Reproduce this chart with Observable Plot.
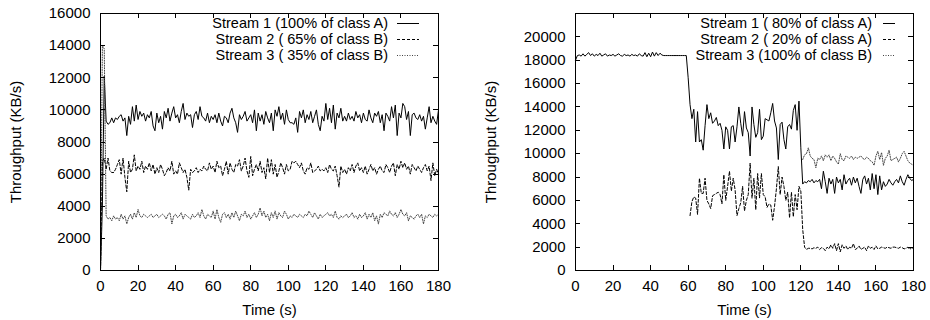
<!DOCTYPE html>
<html>
<head>
<meta charset="utf-8">
<script src="https://cdn.jsdelivr.net/npm/d3@7"></script>
<script src="https://cdn.jsdelivr.net/npm/@observablehq/plot@0.6"></script>
<style>
  html, body { margin: 0; padding: 0; background: #fff; }
  #wrap { display: flex; width: 930px; height: 320px; }
</style>
</head>
<body>
<div id="wrap"></div>
<script>
// ---------- data (one sample per second, value in KB/s) ----------
const xTicks = [0, 20, 40, 60, 80, 100, 120, 140, 160, 180];
const yTicksLeft = [0, 2000, 4000, 6000, 8000, 10000, 12000, 14000, 16000];
const yTicksRight = [0, 2000, 4000, 6000, 8000, 10000, 12000, 14000, 16000, 18000, 20000];

const legendLeft = ["Stream 1 (100% of class A)", "Stream 2 ( 65% of class B)", "Stream 3 ( 35% of class B)"];
const legendRight = ["Stream 1 ( 80% of class A)", "Stream 2 ( 20% of class A)", "Stream 3 (100% of class B)"];

// left panel, start t = 0
const left1 = [
  0, 4000, 12100, 9300, 9100, 9200, 9500, 9200, 9500, 9400,
  9600, 9700, 9300, 9500, 8400, 9600, 9100, 10200, 9300, 10300,
  9400, 9900, 9600, 9800, 9300, 9700, 9500, 9900, 9000, 8700,
  9800, 9200, 9600, 8800, 9900, 9500, 10100, 9300, 9800, 10200,
  9500, 9700, 9200, 9900, 10400, 9400, 9800, 9600, 9700, 8900,
  9700, 9900, 9400, 10200, 9600, 9500, 9300, 9800, 9200, 9600,
  9400, 9700, 9200, 9800, 9300, 9000, 9600, 9500, 9200, 9800,
  10100, 9500, 9200, 8600, 9700, 9400, 9600, 9900, 9300, 9500,
  9700, 9200, 10000, 8700, 9800, 9300, 9700, 9100, 9900, 9500,
  9200, 9800, 8700, 10000, 9600, 10200, 9400, 9800, 9100, 10000,
  9400, 9200, 9200, 9100, 9500, 8600, 9900, 9500, 10000, 9200,
  9700, 9400, 9900, 9200, 9600, 10000, 9100, 8700, 9600, 9300,
  10400, 9400, 10100, 9200, 10300, 8800, 9800, 9500, 10100, 9300,
  9600, 9300, 9800, 9400, 9600, 9300, 9900, 9500, 9700, 9200,
  9800, 9400, 9300, 10000, 9500, 9200, 9800, 9600, 9900, 9200,
  9700, 8700, 9800, 9600, 9300, 10200, 9500, 10300, 8400, 9800,
  9500, 10400, 10200, 9400, 9900, 8400, 9700, 9800, 9500, 9400,
  9700, 9300, 9600, 8800, 9500, 10200, 9200, 9600, 9300, 9100,
  10000
];
const left2 = [
  0, 6800, 7000, 6300, 7000, 6200, 6100, 6100, 6300, 6600,
  6900, 6000, 7000, 5800, 4900, 6800, 6100, 6300, 7200, 6200,
  6500, 6300, 6800, 6100, 6500, 6300, 6700, 6200, 6600, 6000,
  6400, 6100, 6600, 6300, 5900, 6100, 6400, 6200, 6800, 6000,
  6200, 6000, 6700, 6400, 6100, 6300, 5800, 5000, 6300, 6100,
  6200, 6400, 6100, 6300, 6200, 6500, 6300, 6200, 6700, 6300,
  6500, 6100, 6800, 6400, 6500, 5900, 6300, 6800, 6000, 6700,
  6300, 6100, 6600, 6500, 6900, 6200, 6500, 7000, 6200, 5800,
  7100, 5900, 6300, 6600, 6200, 6800, 6100, 6400, 5700, 7000,
  6100, 6900, 6000, 6600, 5800, 6200, 6700, 6400, 6000, 6600,
  6200, 6300, 6800, 6700, 6800, 6600, 6400, 6700, 6200, 6000,
  6400, 6300, 6700, 6100, 6200, 6300, 6500, 6200, 6300, 6200,
  6400, 6100, 6600, 6300, 6200, 6500, 5900, 5200, 6500, 6100,
  6300, 6000, 6400, 6200, 6600, 6100, 6500, 6700, 6200, 6400,
  6100, 6500, 6000, 6300, 6600, 6200, 6400, 6000, 6300, 6500,
  6200, 6100, 6600, 6400, 6100, 6500, 6700, 5900, 6600, 6300,
  6800, 6400, 6700, 6300, 6500, 6000, 6600, 6400, 6200, 6500,
  6300, 6100, 6400, 6600, 6200, 6500, 5600, 6700, 5900, 6300,
  6000
];
const left3 = [
  0, 14000, 13800, 3400, 3200, 3300, 3100, 3400, 3200, 3300,
  3100, 3500, 3200, 3400, 2900, 3300, 3500, 3200, 3600, 3300,
  3800, 3400, 3300, 3500, 3400, 3300, 3400, 3500, 3300, 3400,
  3500, 3300, 3400, 3500, 3400, 3200, 3500, 3600, 2900, 3400,
  3500, 3300, 3400, 3600, 3200, 3500, 3400, 3300, 3200, 3500,
  3300, 3400, 3600, 3300, 3800, 3400, 3200, 3500, 3400, 3300,
  3700, 3200, 3800, 3300, 3000, 3500, 3600, 3300, 3500, 3200,
  3600, 3300, 3700, 3400, 3100, 3500, 3400, 3700, 3300, 3500,
  3200, 3400, 3600, 3300, 3500, 3900, 3400, 3700, 3300, 3500,
  3100, 3600, 3300, 3700, 3200, 3600, 3400, 3300, 3700, 3500,
  3200, 3400, 3300, 3500, 3400, 3300, 3500, 3400, 3300, 3500,
  3400, 3700, 3500, 3300, 3600, 3400, 3200, 3500, 3300, 3400,
  3500, 3600, 3400, 3500, 3300, 3700, 3300, 3200, 3400, 3300,
  3400, 3500, 3300, 3400, 3600, 3300, 3400, 3200, 3500, 3300,
  3400, 3600, 3200, 3500, 3300, 3600, 3100, 3400, 2900, 3500,
  3300, 3600, 3500, 3400, 3700, 3500, 3400, 3600, 3300, 3500,
  3800, 3500, 3400, 3600, 3100, 3400, 3300, 3200, 3400, 3500,
  3300, 3500, 2900, 3400, 3300, 3500, 3400, 3300, 3500, 3400,
  3500
];

// right panel
const right1Start = 0;
const right1 = [
  18000, 18400, 18450, 18350, 18550, 18350, 18500, 18650, 18400, 18550,
  18350, 18500, 18400, 18600, 18350, 18450, 18550, 18350, 18450, 18400,
  18500, 18350, 18450, 18550, 18400, 18350, 18500, 18400, 18450, 18350,
  18500, 18400, 18450, 18350, 18550, 18400, 18350, 18650, 18300, 18600,
  18300, 18700, 18350, 18650, 18400, 18600, 18450, 18400, 18400, 18400,
  18400, 18400, 18400, 18400, 18400, 18400, 18400, 18400, 18400, 18400,
  16500, 14200, 13000, 13800, 11000, 13600, 11000, 11200, 10300, 12400,
  14200, 13000, 13500, 12600, 12800, 13100, 12400, 12600, 12000, 10400,
  12300, 12000, 10400, 12300, 12400, 11000, 12300, 14000, 12600, 11500,
  13600, 12200, 11800, 9800, 14000, 12500, 11400, 11800, 13800, 11200,
  11500, 13000, 12900, 12800, 13500, 14300, 12800, 12200, 9500, 12500,
  12700, 11200, 10400, 12300, 12500, 12100, 13700, 14200, 12000, 14500,
  10500, 7400, 7600, 7500, 7700, 7600, 7800, 7500, 7700, 7600,
  7800, 7000, 8500, 7600, 6600, 7900, 7400, 7800, 6600, 8000,
  7500, 7800, 6900, 8200, 7400, 7700, 7900, 7300, 8000, 7500,
  7900, 7200, 6600, 7800, 8100, 7400, 7900, 6900, 8300, 7000,
  8200, 6500, 8100, 6900, 7600, 7200, 7400, 7800, 7500, 7300,
  7600, 7800, 7500, 8100, 7600, 7300, 7800, 8200, 7900, 7700,
  7800
];
const right2Start = 61;
const right2 = [
  4700, 5900, 6300, 6200, 4800, 7900, 6600, 6600, 7900,
  6000, 5700, 5300, 6400, 6500, 6600, 6700, 6500, 5700, 8200,
  6000, 7200, 8500, 6800, 7900, 6900, 4700, 5300, 5800, 7200,
  5100, 6000, 6500, 9200, 6200, 7900, 5200, 8300, 6200, 8300,
  6500, 6300, 5400, 5700, 5600, 4300, 5500, 7000, 8900, 6500,
  8000, 7200, 6000, 6700, 4500, 6700, 4600, 6500, 5200, 7200,
  6800, 3500, 2000, 1800, 1900, 1900, 1850, 1950, 1900, 2000,
  1800, 1950, 1900, 1700, 2000, 1850, 2200, 1900, 2300, 1700,
  2300, 1600, 2200, 1900, 2100, 1800, 2000, 1900, 2300, 1800,
  1900, 2100, 1800, 1900, 2000, 1700, 2100, 1900, 2000, 1800,
  2100, 1850, 1900, 2000, 1950, 1900, 2000, 1950, 1900, 2000,
  2000, 1950, 1900, 2000, 1950, 1850, 1900, 2000, 1800, 1950,
  1900
];
const right3Start = 121;
const right3 = [
  9500, 9900, 10000, 10500, 9800, 9600, 9500, 8800, 9600,
  9500, 9800, 9400, 9900, 9700, 9900, 9400, 9800, 9600, 9300,
  9100, 10000, 9500, 9400, 9800, 9700, 9600, 9800, 9500, 9700,
  9600, 9700, 9800, 9600, 9500, 9700, 9600, 9400, 9300, 9000,
  9800, 10200, 9500, 10100, 9000, 9600, 9800, 10300, 9400, 9500,
  9600, 9700, 9300, 9600, 10000, 10200, 9800, 9400, 9200, 9100,
  9000
];

// ---------- styles ----------
const seriesStyle = [
  {stroke: "#000", dash: null},
  {stroke: "#000", dash: "3,2"},
  {stroke: "#444", dash: "1,1.5"}
];

function toRows(values, start) {
  return values.map((v, i) => ({t: start + i, v}));
}

function makePanel(cfg) {
  const W = 465, H = 320;
  const mL = cfg.marginLeft, mR = cfg.marginRight, mT = 13, mB = 50;

  const ticksMark = (index, scales, values, dims) => {
    const g = d3.create("svg:g").attr("stroke", "#000").attr("stroke-width", 1);
    const top = dims.marginTop, bot = dims.height - dims.marginBottom;
    const lft = dims.marginLeft, rgt = dims.width - dims.marginRight;
    const L = 5;
    for (const t of cfg.xTicks) {
      const x = Math.round(scales.x(t)) + 0.5;
      g.append("line").attr("x1", x).attr("x2", x).attr("y1", bot).attr("y2", bot - L);
      g.append("line").attr("x1", x).attr("x2", x).attr("y1", top).attr("y2", top + L);
    }
    for (const v of cfg.yTicks) {
      const y = Math.round(scales.y(v)) + 0.5;
      g.append("line").attr("x1", lft).attr("x2", lft + L).attr("y1", y).attr("y2", y);
      g.append("line").attr("x1", rgt).attr("x2", rgt - L).attr("y1", y).attr("y2", y);
    }
    return g.node();
  };

  const legendMark = (index, scales, values, dims) => {
    const g = d3.create("svg:g").style("font-size", "14.5px");
    const rgt = dims.width - dims.marginRight;
    cfg.legend.forEach((label, i) => {
      const y = dims.marginTop + 10 + i * 16;
      g.append("text")
        .attr("x", rgt - cfg.legendTextOffset)
        .attr("y", y)
        .attr("dy", "0.35em")
        .attr("text-anchor", "end")
        .attr("fill", "#000")
        .style("white-space", "pre")
        .text(label);
      const s = seriesStyle[i];
      g.append("line")
        .attr("x1", rgt - cfg.sampleFrom)
        .attr("x2", rgt - cfg.sampleTo)
        .attr("y1", y + 0.5).attr("y2", y + 0.5)
        .attr("stroke", s.stroke)
        .attr("stroke-width", 1)
        .attr("stroke-dasharray", s.dash);
    });
    return g.node();
  };

  return Plot.plot({
    width: W, height: H,
    marginLeft: mL, marginRight: mR, marginTop: mT, marginBottom: mB,
    style: {fontFamily: "'Liberation Sans', Arial, Helvetica, sans-serif", fontSize: "15px", background: "#fff", color: "#000", overflow: "visible"},
    x: {domain: [0, 180], ticks: cfg.xTicks, tickSize: 0, tickPadding: 10, tickFormat: d3.format("d"),
        label: "Time (s)", labelArrow: "none", labelAnchor: "center", labelOffset: 44},
    y: {domain: [0, cfg.yMax], ticks: cfg.yTicks, tickSize: 0, tickPadding: 10, tickFormat: d3.format("d"),
        label: "Throughput (KB/s)", labelArrow: "none", labelAnchor: "center", labelOffset: cfg.yLabelOffset},
    marks: [
      ...cfg.series.map((s, i) => Plot.line(toRows(s.values, s.start), {
        x: "t", y: "v", stroke: seriesStyle[i].stroke, strokeWidth: 1,
        strokeDasharray: seriesStyle[i].dash, strokeLinejoin: "miter"
      })),
      Plot.frame({stroke: "#000", strokeWidth: 1}),
      ticksMark,
      legendMark
    ]
  });
}

const wrap = document.getElementById("wrap");
wrap.append(makePanel({
  marginLeft: 100, marginRight: 27, yLabelOffset: 90,
  yMax: 16000, xTicks, yTicks: yTicksLeft,
  legend: legendLeft, legendTextOffset: 50, sampleFrom: 41, sampleTo: 19,
  series: [
    {values: left1, start: 0},
    {values: left2, start: 0},
    {values: left3, start: 0}
  ]
}));
wrap.append(makePanel({
  marginLeft: 110, marginRight: 17, yLabelOffset: 90,
  yMax: 22000, xTicks, yTicks: yTicksRight,
  legend: legendRight, legendTextOffset: 41, sampleFrom: 30, sampleTo: 18,
  series: [
    {values: right1, start: right1Start},
    {values: right2, start: right2Start},
    {values: right3, start: right3Start}
  ]
}));
</script>
</body>
</html>
